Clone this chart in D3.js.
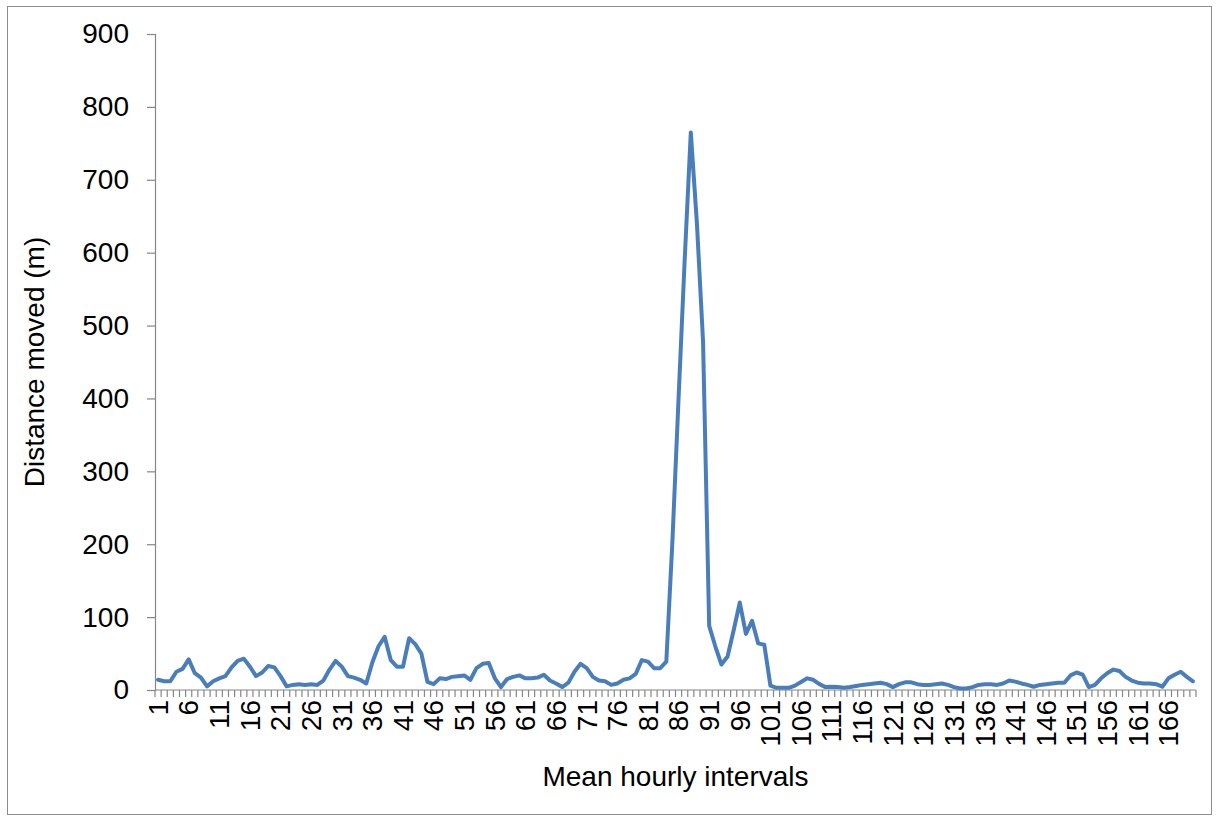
<!DOCTYPE html>
<html>
<head>
<meta charset="utf-8">
<script src="https://cdnjs.cloudflare.com/ajax/libs/d3/7.8.5/d3.min.js"></script>
<style>
  html, body { margin: 0; padding: 0; background: #fff; }
  svg text { font-family: "Liberation Sans", Arial, sans-serif; fill: #000; }
</style>
</head>
<body>
<svg id="chart" width="1218" height="822"></svg>
<script>
// ---- data ----
const categories = d3.range(1, 171);
const distance = [
  14, 12, 12, 25, 29, 42, 23, 17, 5, 12,
  16, 19, 31, 40, 43, 32, 19, 24, 33, 31,
  19, 5, 7, 8, 7, 8, 7, 13, 28, 40,
  32, 19, 17, 14, 9, 38, 60, 73, 41, 32,
  32, 71, 63, 50, 11, 8, 16, 15, 18, 19,
  20, 14, 30, 36, 37, 16, 4, 15, 18, 20,
  16, 16, 17, 21, 13, 9, 4, 10, 25, 36,
  30, 18, 13, 12, 7, 9, 14, 16, 22, 41,
  39, 30, 30, 39, 205, 400, 590, 765, 640, 478,
  88, 60, 35, 46, 82, 120, 77, 95, 64, 62,
  6, 3, 3, 3, 6, 11, 16, 14, 8, 4,
  4.5, 4, 3, 4, 5.5, 7, 8, 9, 10, 8,
  4, 8, 10.5, 10.5, 8, 7, 7, 8, 9, 7,
  4, 2, 2, 4, 7, 8, 8, 7, 9, 13,
  11.5, 9, 7, 4.5, 7, 8, 9, 10, 10, 20,
  24, 21, 4, 7, 16, 23, 28, 26, 18, 13,
  10, 9, 9, 8, 4.5, 16, 21, 25, 18, 12
];
const yTicks = [0, 100, 200, 300, 400, 500, 600, 700, 800, 900];
const xLabelEvery = 5;
const yTitle = "Distance moved (m)";
const xTitle = "Mean hourly intervals";

// ---- layout ----
const svg = d3.select("#chart");
const plot = { left: 155, right: 1196, top: 34, bottom: 690 };
const axisColor = "#868686";

// frame
svg.append("rect")
  .attr("x", 7.5).attr("y", 6.5)
  .attr("width", 1204).attr("height", 808)
  .attr("fill", "none").attr("stroke", "#8c8c8c").attr("stroke-width", 1);

const x = d3.scaleBand().domain(categories).range([plot.left, plot.right]).padding(0);
const y = d3.scaleLinear().domain([0, 900]).range([plot.bottom, plot.top]);

// y axis
const yAxis = d3.axisLeft(y).tickValues(yTicks).tickSize(8).tickPadding(18);
const gy = svg.append("g").attr("transform", `translate(${plot.left},0)`).call(yAxis);
gy.select(".domain").attr("stroke", axisColor).attr("stroke-width", 1.2);
gy.selectAll(".tick line").attr("stroke", axisColor).attr("stroke-width", 1.2);
gy.selectAll(".tick text").attr("font-size", 28).attr("fill", "#000")
  .style("font-family", '"Liberation Sans", Arial, sans-serif');

// x axis: tick marks at category boundaries
const gx = svg.append("g").attr("transform", `translate(0,${plot.bottom})`);
gx.append("line")
  .attr("x1", plot.left).attr("x2", plot.right)
  .attr("y1", 0).attr("y2", 0)
  .attr("stroke", axisColor).attr("stroke-width", 1.2);
const bounds = categories.map(c => x(c)).concat([x(categories[categories.length - 1]) + x.bandwidth()]);
gx.selectAll("line.tk").data(bounds).enter().append("line")
  .attr("class", "tk")
  .attr("x1", d => d).attr("x2", d => d)
  .attr("y1", 0).attr("y2", 7)
  .attr("stroke", axisColor).attr("stroke-width", 1.2);
gx.selectAll("text.xl").data(categories.filter((c, i) => i % xLabelEvery === 0)).enter().append("text")
  .attr("class", "xl")
  .attr("transform", d => `translate(${x(d) + x.bandwidth() / 2},${10}) rotate(-90)`)
  .attr("text-anchor", "end")
  .attr("dy", "0.35em")
  .attr("font-size", 28)
  .text(d => d);

// line
const line = d3.line()
  .x((d, i) => x(categories[i]) + x.bandwidth() / 2)
  .y(d => y(d));
svg.append("path")
  .datum(distance)
  .attr("d", line)
  .attr("fill", "none")
  .attr("stroke", "#4a7ebb")
  .attr("stroke-width", 4)
  .attr("stroke-linejoin", "round")
  .attr("stroke-linecap", "round");

// titles
svg.append("text")
  .attr("transform", `translate(44,${(plot.top + plot.bottom) / 2}) rotate(-90)`)
  .attr("text-anchor", "middle")
  .attr("font-size", 28)
  .text(yTitle);
svg.append("text")
  .attr("x", (plot.left + plot.right) / 2)
  .attr("y", 786)
  .attr("text-anchor", "middle")
  .attr("font-size", 28)
  .text(xTitle);
</script>
</body>
</html>
